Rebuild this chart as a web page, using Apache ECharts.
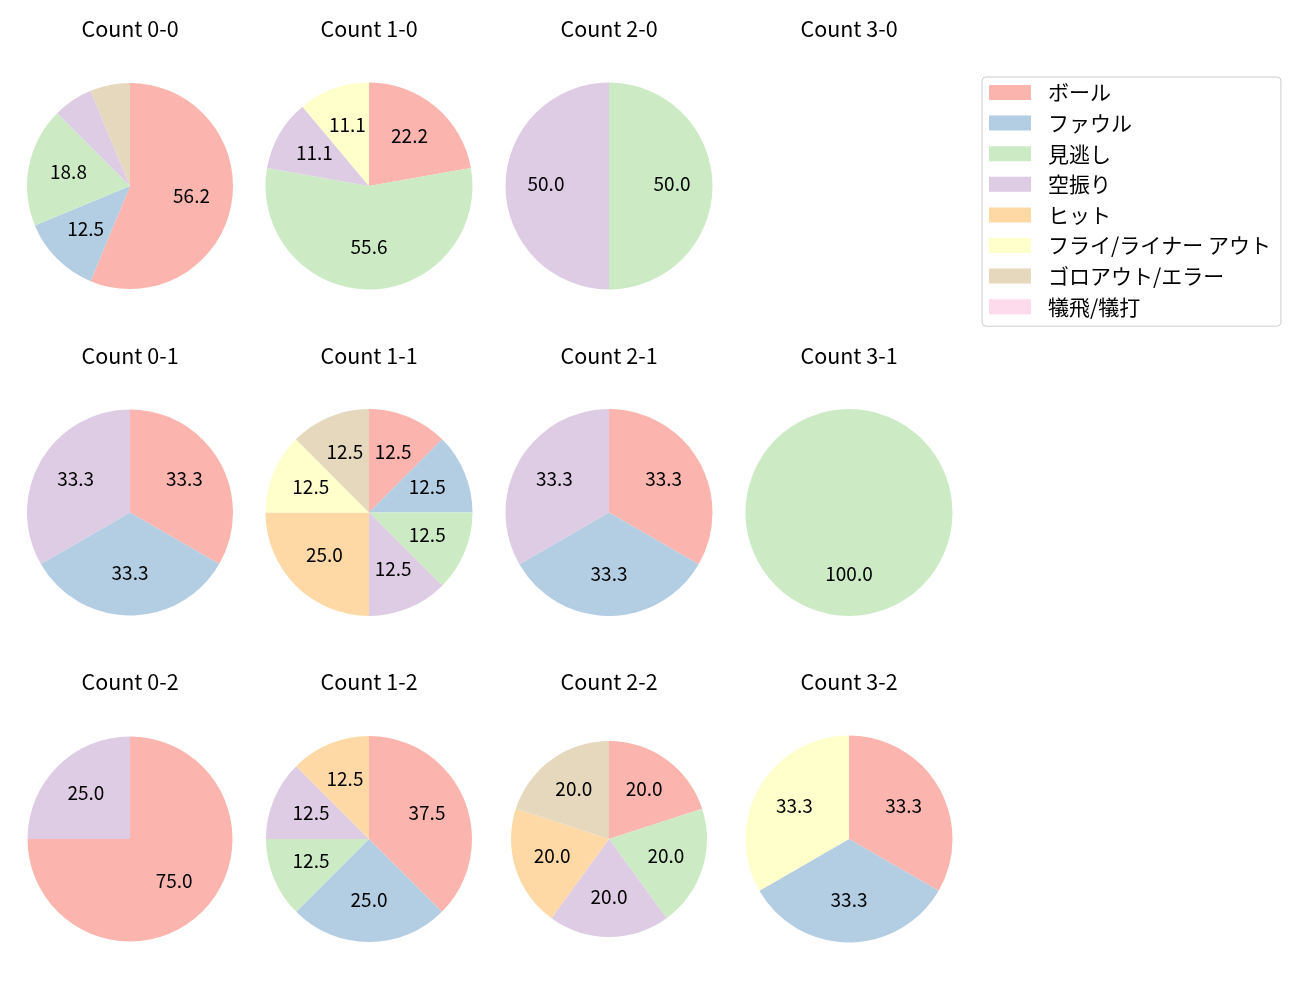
<!DOCTYPE html>
<html>
<head>
<meta charset="utf-8">
<script src="https://cdn.jsdelivr.net/npm/echarts@6/dist/echarts.min.js"></script>
<style>
  html, body { margin: 0; padding: 0; background: #fff; }
  #main { width: 1300px; height: 1000px; }
</style>
</head>
<body>
<div id="main"></div>
<script>
// 球種結果の分類
const categories = ['ボール', 'ファウル', '見逃し', '空振り', 'ヒット', 'フライ/ライナー アウト', 'ゴロアウト/エラー', '犠飛/犠打'];
const colors = ['#fbb4ae', '#b3cde3', '#ccebc5', '#decbe4', '#fed9a6', '#ffffcc', '#e5d8bd', '#fddaec'];

// カウント別の件数 (categories の順)
const counts = ['0-0', '1-0', '2-0', '3-0', '0-1', '1-1', '2-1', '3-1', '0-2', '1-2', '2-2', '3-2'];
const count00 = [9, 2, 3, 1, 0, 0, 1, 0];
const count10 = [2, 0, 5, 1, 0, 1, 0, 0];
const count20 = [0, 0, 1, 1, 0, 0, 0, 0];
const count30 = [0, 0, 0, 0, 0, 0, 0, 0];
const count01 = [1, 1, 0, 1, 0, 0, 0, 0];
const count11 = [1, 1, 1, 1, 2, 1, 1, 0];
const count21 = [1, 1, 0, 1, 0, 0, 0, 0];
const count31 = [0, 0, 1, 0, 0, 0, 0, 0];
const count02 = [3, 0, 0, 1, 0, 0, 0, 0];
const count12 = [3, 2, 1, 1, 1, 0, 0, 0];
const count22 = [1, 0, 1, 1, 1, 0, 1, 0];
const count32 = [1, 1, 0, 0, 0, 1, 0, 0];
const countValues = [count00, count10, count20, count30, count01, count11, count21, count31, count02, count12, count22, count32];

// レイアウト
const colX = [130, 369, 609, 849];
const rowY = [186, 512.5, 839];
const titleY = [29, 356, 682];
const radiusList = [103, 103.5, 103.5, 103, 103, 103.5, 103.5, 103.5, 102.5, 103, 98, 103.5];
const FONT = '"Noto Sans CJK JP", "Noto Sans", sans-serif';

// matplotlib の '%1.1f' と同じ丸め (偶数丸め)
function fmtPct(p) {
  const x = p * 10;
  const f = Math.floor(x);
  let n;
  if (Math.abs(x - f - 0.5) < 1e-9) {
    n = (f % 2 === 0) ? f : f + 1;
  } else {
    n = Math.round(x);
  }
  return (n / 10).toFixed(1);
}

const chart = echarts.init(document.getElementById('main'));

const series = [];
const graphics = [];

counts.forEach(function (c, k) {
  const col = k % 4, row = Math.floor(k / 4);
  const cx = colX[col], cy = rowY[row], r = radiusList[k];
  graphics.push({
    type: 'text',
    x: cx,
    y: titleY[row],
    style: {
      text: 'Count ' + c,
      fill: '#000',
      fontSize: 21.5,
      fontFamily: FONT,
      align: 'center',
      verticalAlign: 'middle'
    }
  });
  const vals = countValues[k];
  const sum = vals.reduce((a, b) => a + b, 0);
  if (sum === 0) return;
  const data = categories.map(function (n, i) {
    return { name: n, value: vals[i], itemStyle: { color: colors[i] } };
  });
  // 扇形
  series.push({
    type: 'pie',
    center: [cx, cy],
    radius: [0, r],
    startAngle: 90,
    clockwise: true,
    stillShowZeroSum: false,
    itemStyle: { borderWidth: 0 },
    label: { show: false },
    labelLine: { show: false },
    emphasis: { scale: false },
    data: data
  });
  // ラベル (半径の約 0.6 の位置)
  series.push({
    type: 'pie',
    center: [cx, cy],
    radius: [r * 0.16, r],
    startAngle: 90,
    clockwise: true,
    silent: true,
    stillShowZeroSum: false,
    itemStyle: { color: 'rgba(0,0,0,0)', borderWidth: 0 },
    label: {
      show: true,
      position: 'inside',
      color: '#000',
      fontSize: 19,
      fontFamily: FONT,
      offset: [0, -2],
      formatter: function (p) {
        const pct = p.value / sum * 100;
        return pct < 8 ? '' : fmtPct(pct);
      }
    },
    labelLine: { show: false },
    data: categories.map(function (n, i) {
      return { name: n, value: vals[i], itemStyle: { color: 'rgba(0,0,0,0)' } };
    })
  });
});

chart.setOption({
  animation: false,
  legend: {
    orient: 'vertical',
    left: 982,
    top: 77,
    padding: [5, 10, 9, 7],
    itemWidth: 42,
    itemHeight: 15,
    itemGap: 9.6,
    icon: 'rect',
    borderColor: '#cccccc',
    borderWidth: 1,
    borderRadius: 4,
    selectedMode: false,
    textStyle: {
      color: '#000',
      fontSize: 21,
      fontFamily: FONT,
      padding: [0, 0, 0, 12]
    },
    data: categories
  },
  graphic: graphics,
  series: series
});
</script>
</body>
</html>
